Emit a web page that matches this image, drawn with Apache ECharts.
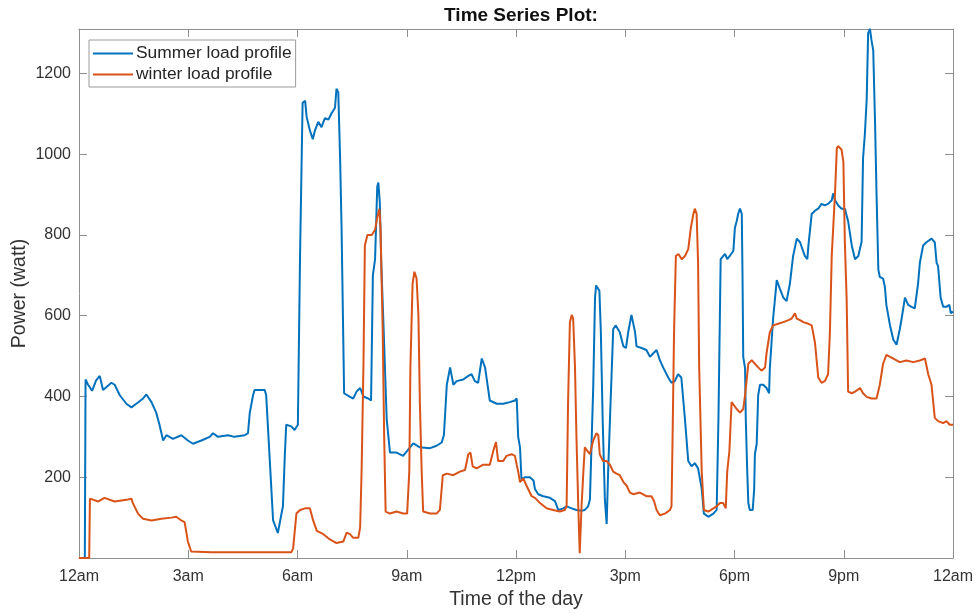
<!DOCTYPE html>
<html>
<head>
<meta charset="utf-8">
<script src="https://cdn.jsdelivr.net/npm/echarts@6/dist/echarts.min.js"></script>
<style>html,body{margin:0;padding:0;background:#fff}#c{width:977px;height:614px}</style>
</head>
<body>
<div id="c"></div>
<script>
// ---- data (hours of day, power in watt) ----
var xTickLabels = ['12am','3am','6am','9am','12pm','3pm','6pm','9pm','12am'];
var yTicks = [200,400,600,800,1000,1200];

var summerHours = [0,0.16,0.18,0.25,0.36,0.47,0.57,0.66,0.89,0.98,1.12,1.30,1.44,1.62,1.76,1.85,1.99,2.12,2.21,2.31,2.40,2.58,2.81,2.99,3.13,3.36,3.59,3.68,3.82,4.09,4.27,4.55,4.64,4.69,4.78,4.82,5.10,5.14,5.24,5.33,5.46,5.51,5.60,5.65,5.69,5.83,5.92,6.01,6.07,6.14,6.21,6.25,6.34,6.42,6.48,6.57,6.66,6.75,6.85,6.94,7.03,7.07,7.12,7.17,7.21,7.28,7.44,7.53,7.62,7.72,7.81,7.94,8.02,8.07,8.13,8.19,8.22,8.26,8.30,8.36,8.45,8.54,8.72,8.90,9.09,9.18,9.36,9.64,9.82,9.96,10.02,10.10,10.19,10.28,10.37,10.55,10.69,10.78,10.87,10.96,11.06,11.15,11.28,11.47,11.65,11.83,11.97,12.02,12.06,12.11,12.15,12.25,12.38,12.48,12.52,12.61,12.75,12.93,13.07,13.16,13.30,13.39,13.53,13.66,13.80,13.89,13.98,14.03,14.08,14.12,14.17,14.20,14.29,14.33,14.38,14.44,14.49,14.53,14.58,14.67,14.74,14.85,14.95,15.02,15.08,15.17,15.27,15.31,15.45,15.58,15.68,15.77,15.86,15.95,16.04,16.18,16.27,16.36,16.45,16.54,16.64,16.73,16.82,16.91,17.00,17.10,17.16,17.28,17.42,17.51,17.56,17.62,17.74,17.80,17.87,17.97,18.01,18.06,18.10,18.15,18.20,18.22,18.24,18.29,18.31,18.35,18.38,18.42,18.50,18.54,18.56,18.61,18.65,18.70,18.79,18.88,18.95,18.97,19.06,19.16,19.25,19.34,19.43,19.52,19.61,19.71,19.80,19.93,20.00,20.03,20.12,20.21,20.30,20.39,20.48,20.57,20.67,20.71,20.76,20.85,20.94,21.03,21.12,21.22,21.31,21.40,21.49,21.53,21.58,21.63,21.67,21.72,21.76,21.81,21.86,21.90,21.95,21.99,22.08,22.13,22.17,22.27,22.36,22.45,22.54,22.59,22.68,22.77,22.86,22.95,23.04,23.09,23.18,23.27,23.41,23.50,23.55,23.59,23.66,23.73,23.82,23.90,23.94,24.0];
var summerPower = [0,0,442,429,414,440,451,416,434,429,403,382,373,385,395,405,386,360,330,291,304,295,304,291,283,291,300,309,300,304,300,304,309,360,403,416,416,403,240,93,62,66,128,250,330,326,317,330,748,1127,1132,1093,1059,1037,1059,1080,1067,1089,1086,1102,1115,1162,1153,990,817,408,399,395,412,421,400,395,390,700,740,920,930,880,730,580,343,261,261,253,274,284,274,272,278,286,304,429,472,429,438,442,451,455,438,434,494,472,390,382,382,386,390,395,300,274,195,200,200,192,171,158,153,149,141,119,123,128,123,119,117,119,128,145,300,421,645,675,662,559,343,145,84,214,343,567,576,559,524,520,559,602,559,524,520,515,498,507,515,490,472,447,434,438,455,447,343,240,227,235,222,171,110,102,110,119,350,740,753,740,748,761,817,834,852,865,852,700,498,470,343,214,136,119,119,170,257,283,403,429,429,421,408,470,593,688,666,645,636,679,748,791,782,748,740,774,852,860,865,877,873,877,886,903,886,873,865,865,834,774,740,748,783,990,1050,1136,1300,1310,1283,1257,1076,903,714,696,692,671,627,576,541,528,567,593,645,627,622,618,679,731,774,782,791,782,731,723,645,622,622,627,606,610];

var winterHours = [0,0.28,0.30,0.53,0.70,0.98,1.35,1.44,1.48,1.62,1.76,1.99,2.26,2.54,2.67,2.81,2.90,2.99,3.08,3.63,5.83,5.88,5.97,6.07,6.21,6.34,6.43,6.53,6.71,6.89,7.07,7.26,7.35,7.44,7.53,7.67,7.72,7.76,7.81,7.85,7.92,8.04,8.13,8.19,8.25,8.28,8.34,8.38,8.42,8.54,8.72,8.90,9.01,9.07,9.10,9.16,9.21,9.27,9.32,9.36,9.41,9.45,9.64,9.82,9.91,9.99,10.10,10.28,10.46,10.60,10.69,10.75,10.81,10.92,11.10,11.28,11.39,11.45,11.51,11.65,11.74,11.88,11.97,12.02,12.06,12.11,12.20,12.29,12.43,12.52,12.66,12.84,13.02,13.20,13.34,13.39,13.43,13.48,13.53,13.57,13.62,13.66,13.71,13.75,13.80,13.85,13.89,13.96,14.03,14.12,14.21,14.26,14.30,14.39,14.49,14.58,14.67,14.76,14.85,14.95,15.04,15.13,15.22,15.40,15.58,15.72,15.79,15.86,15.95,16.09,16.23,16.27,16.30,16.34,16.39,16.46,16.55,16.64,16.73,16.80,16.87,16.91,16.96,17.00,17.03,17.10,17.16,17.28,17.42,17.51,17.60,17.69,17.76,17.80,17.86,17.92,17.97,18.06,18.15,18.24,18.29,18.38,18.47,18.56,18.65,18.74,18.84,18.88,18.97,19.06,19.20,19.34,19.48,19.57,19.66,19.71,19.80,19.89,20.03,20.12,20.21,20.30,20.39,20.48,20.57,20.62,20.67,20.76,20.81,20.85,20.94,20.99,21.03,21.08,21.12,21.22,21.31,21.45,21.53,21.63,21.76,21.90,21.99,22.08,22.17,22.27,22.36,22.54,22.72,22.91,23.09,23.23,23.32,23.41,23.50,23.59,23.73,23.82,23.91,24.0];
var winterPower = [0,0,147,140,149,140,145,147,136,110,97,93,97,100,102,93,89,41,16,14,14,24,110,119,123,123,93,67,59,46,37,41,63,59,50,50,76,214,472,774,800,800,813,843,865,817,559,300,115,110,115,110,110,214,472,679,709,692,602,386,214,115,110,110,119,205,209,205,214,218,257,261,227,222,231,231,270,287,240,240,253,257,253,231,214,188,197,179,153,149,136,123,119,115,119,128,386,584,602,593,472,300,128,12,128,214,274,265,257,291,309,304,257,240,240,231,214,209,205,188,179,162,158,162,153,153,141,119,106,110,119,128,300,559,748,753,740,748,765,817,852,865,852,731,472,214,119,115,123,128,136,136,123,214,265,386,390,369,360,369,403,481,490,481,472,464,472,507,559,576,580,584,589,593,606,593,589,584,580,576,533,447,434,438,455,559,748,903,1015,1020,1011,981,783,640,412,408,412,421,408,399,395,395,429,481,503,498,494,485,489,485,489,494,455,429,347,339,334,339,330,330];

function pairs(h, v) { return h.map(function (x, i) { return [x, v[i]]; }); }

var FONT = 'Liberation Sans';
var TXT = '#333333';
var AX = '#8f8f8f';

var chart = echarts.init(document.getElementById('c'), null, {renderer: 'canvas'});

function xAx(pos, showLabel) {
  return {
    type: 'value', position: pos, min: 0, max: 24, interval: 3,
    axisLine: {show: true, onZero: false, lineStyle: {color: AX, width: 1}},
    axisTick: {show: true, inside: true, length: 8, lineStyle: {color: AX}},
    splitLine: {show: false},
    axisLabel: {show: showLabel, margin: 11, color: TXT, fontFamily: FONT, fontSize: 16,
      formatter: function (v) { var i = Math.round(v / 3); return xTickLabels[i] || ''; }},
    name: showLabel ? 'Time of the day' : '',
    nameLocation: 'middle', nameGap: 32, nameMoveOverlap: false,
    nameTextStyle: {color: TXT, fontFamily: FONT, fontSize: 19.5}
  };
}
function yAx(pos, showLabel) {
  return {
    type: 'value', position: pos, min: 0, max: 1310, interval: 200,
    axisLine: {show: true, onZero: false, lineStyle: {color: AX, width: 1}},
    axisTick: {show: true, inside: true, length: 8, lineStyle: {color: AX}},
    splitLine: {show: false},
    axisLabel: {show: showLabel, margin: 8, color: TXT, fontFamily: FONT, fontSize: 16,
      showMinLabel: false, showMaxLabel: false,
      formatter: function (v) { return yTicks.indexOf(v) >= 0 ? String(v) : ''; }},
    name: showLabel ? 'Power (watt)' : '',
    nameLocation: 'middle', nameGap: 49, nameMoveOverlap: false,
    nameTextStyle: {color: TXT, fontFamily: FONT, fontSize: 19.5}
  };
}

chart.setOption({
  animation: false,
  backgroundColor: '#ffffff',
  title: {
    text: 'Time Series Plot:', left: 516, top: 1, textAlign: 'center',
    textStyle: {fontFamily: FONT, fontSize: 19, fontWeight: 'bold', color: '#111'}
  },
  legend: {
    orient: 'vertical', left: 89, top: 40,
    padding: [5, 4, 4, 4], itemGap: 4,
    itemWidth: 40, itemHeight: 2, icon: 'rect',
    backgroundColor: '#fff', borderColor: '#9a9a9a', borderWidth: 1, borderRadius: 0,
    textStyle: {fontFamily: FONT, fontSize: 17.4, lineHeight: 17, color: '#262626', padding: [0,0,0,-2]},
    data: ['Summer load profile', 'winter load profile']
  },
  grid: {left: 79, right: 24, top: 29, bottom: 56, containLabel: false, outerBoundsMode: 'none'},
  xAxis: [xAx('bottom', true), xAx('top', false)],
  yAxis: [yAx('left', true), yAx('right', false)],
  series: [
    {name: 'Summer load profile', type: 'line', data: pairs(summerHours, summerPower),
     showSymbol: false, symbol: 'none', lineStyle: {color: '#0072BD', width: 2}, itemStyle: {color: '#0072BD'}, z: 2},
    {name: 'winter load profile', type: 'line', data: pairs(winterHours, winterPower),
     showSymbol: false, symbol: 'none', lineStyle: {color: '#D95319', width: 2}, itemStyle: {color: '#D95319'}, z: 3}
  ]
});
</script>
</body>
</html>
